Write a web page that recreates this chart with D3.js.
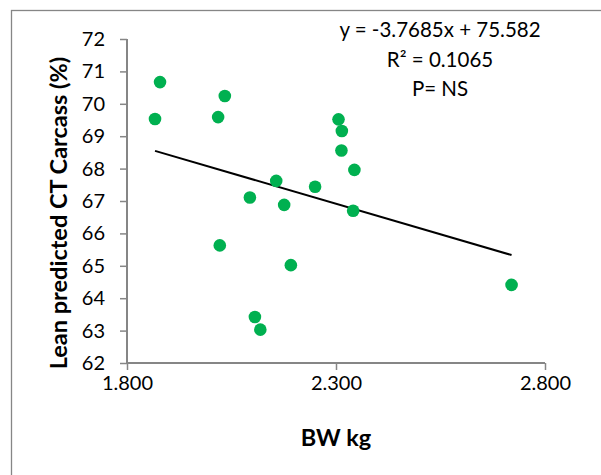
<!DOCTYPE html>
<html>
<script src='https://d3js.org/d3.v7.min.js'></script>
<style>
  body { margin: 0; background: white; }
  svg { font-family: 'Lato', 'Open Sans', sans-serif; }
</style>
<body>
<svg id="chart" width="601" height="475"></svg>
<script>
  // body weight (kg) and lean predicted CT carcass (%)
  var bw = [1.867, 1.879, 2.018, 2.034, 2.094, 2.157, 2.176, 2.250, 2.022, 2.192,
            2.106, 2.119, 2.306, 2.314, 2.313, 2.344, 2.341, 2.720];
  var lean = [69.53, 70.67, 69.59, 70.24, 67.11, 67.62, 66.88, 67.44, 65.63, 65.02,
              63.42, 63.03, 69.52, 69.16, 68.56, 67.96, 66.70, 64.41];
  var xTicks = [1.8, 2.3, 2.8];
  var yTicks = [62, 63, 64, 65, 66, 67, 68, 69, 70, 71, 72];
  var slope = -3.7685, intercept = 75.582;
  var notes = ["y = -3.7685x + 75.582", "R\u00b2 = 0.1065", "P= NS"];

  var svg = d3.select("#chart");
  var grey = "#868686";

  // outer chart frame (right/bottom edges fall outside the picture)
  svg.append("rect")
    .attr("x", 11.5).attr("y", 10.5)
    .attr("width", 700).attr("height", 600)
    .attr("fill", "none").attr("stroke", grey).attr("stroke-width", 1.3);

  var x = d3.scaleLinear().domain([1.8, 2.8]).range([127, 545]);
  var y = d3.scaleLinear().domain([62, 72]).range([363, 39]);

  // y axis
  var yAxis = svg.append("g")
    .attr("transform", "translate(127,0)")
    .call(d3.axisLeft(y).tickValues(yTicks).tickSize(7).tickPadding(15)
      .tickFormat(d3.format("d")));
  // x axis
  var xAxis = svg.append("g")
    .attr("transform", "translate(0,363)")
    .call(d3.axisBottom(x).tickValues(xTicks).tickSize(7).tickPadding(6)
      .tickFormat(d3.format(".3f")));

  [xAxis, yAxis].forEach(function (g) {
    g.select(".domain").attr("stroke", grey).attr("stroke-width", 2);
    g.selectAll(".tick line").attr("stroke", grey).attr("stroke-width", 1.5);
    g.selectAll(".tick text").attr("fill", "#000")
      .style("font-size", "20px").style("font-family", "Lato");
  });
  // remove the outer tick ends
  yAxis.select(".domain").attr("d", "M0,39V363");
  xAxis.select(".domain").attr("d", "M127,0H545");

  // trend line over the data range
  var xr = d3.extent(bw);
  svg.append("line")
    .attr("x1", x(xr[0])).attr("y1", y(slope * xr[0] + intercept))
    .attr("x2", x(xr[1])).attr("y2", y(slope * xr[1] + intercept))
    .attr("stroke", "#000").attr("stroke-width", 2);

  svg.append("g").selectAll("circle")
    .data(bw)
    .enter().append("circle")
    .attr("cx", function (d) { return x(d); })
    .attr("cy", function (d, i) { return y(lean[i]); })
    .attr("r", 6.3)
    .attr("fill", "#00b050");

  // axis titles
  svg.append("text")
    .attr("transform", "translate(67,213) rotate(-90)")
    .attr("text-anchor", "middle")
    .style("font-size", "23.5px").style("font-weight", "bold")
    .text("Lean predicted CT Carcass (%)");
  svg.append("text")
    .attr("x", 336).attr("y", 446)
    .attr("text-anchor", "middle")
    .style("font-size", "23.5px").style("font-weight", "bold")
    .text("BW kg");

  // regression notes
  svg.append("g").selectAll("text")
    .data(notes)
    .enter().append("text")
    .attr("x", 440)
    .attr("y", function (d, i) { return 37 + i * 29.5; })
    .attr("text-anchor", "middle")
    .style("font-size", "20.5px")
    .text(function (d) { return d; });
</script>
</body>
</html>
